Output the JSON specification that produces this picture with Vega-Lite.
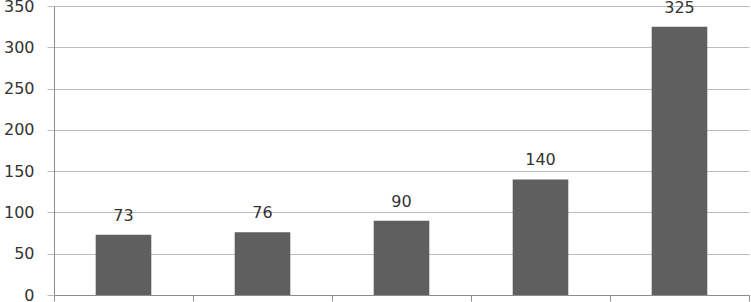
{
  "$schema": "https://vega.github.io/schema/vega-lite/v6.json",
  "width": 695,
  "height": 289,
  "autosize": {"type": "none"},
  "padding": {"left": 54, "top": 6, "right": 2, "bottom": 7},
  "background": "white",
  "config": {
    "view": {"stroke": null},
    "font": "DejaVu Sans"
  },
  "data": {
    "values": [
      {"cat": "A", "value": 73},
      {"cat": "B", "value": 76},
      {"cat": "C", "value": 90},
      {"cat": "D", "value": 140},
      {"cat": "E", "value": 325}
    ]
  },
  "encoding": {
    "x": {
      "field": "cat",
      "type": "nominal",
      "sort": null,
      "scale": {"paddingInner": 0, "paddingOuter": 0},
      "axis": {
        "title": null,
        "labels": false,
        "tickBand": "extent",
        "domainColor": "#8c8c8c",
        "tickColor": "#8c8c8c",
        "tickSize": 6,
        "grid": false
      }
    },
    "y": {
      "field": "value",
      "type": "quantitative",
      "scale": {"domain": [0, 350], "nice": false},
      "axis": {
        "title": null,
        "values": [0, 50, 100, 150, 200, 250, 300, 350],
        "gridColor": "#bcbcbc",
        "domainColor": "#8c8c8c",
        "tickColor": "#bcbcbc",
        "tickSize": 7,
        "labelPadding": 13,
        "labelFontSize": 16,
        "labelColor": "#333333",
        "labelFont": "DejaVu Sans"
      }
    }
  },
  "layer": [
    {"mark": {"type": "bar", "color": "#5f5f5f", "width": {"band": 0.4}}},
    {
      "mark": {"type": "text", "baseline": "bottom", "dy": -11, "fontSize": 16, "color": "#333333", "font": "DejaVu Sans"},
      "encoding": {"text": {"field": "value", "type": "quantitative"}}
    }
  ]
}
